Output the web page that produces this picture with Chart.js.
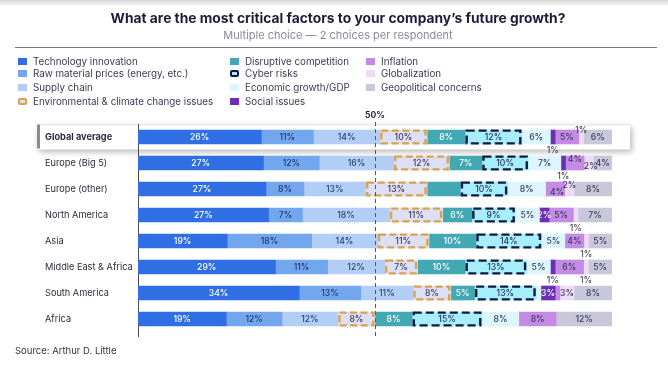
<!DOCTYPE html>
<html>
<head>
<meta charset="utf-8">
<script src="https://cdn.jsdelivr.net/npm/chart.js@4.4.1/dist/chart.umd.min.js"></script>
<style>
  body { margin: 0; background: #fff; font-family: Inter, "Open Sans", sans-serif; }
  #wrap { position: relative; width: 668px; height: 373px; overflow: hidden; }
  #chart { position: absolute; left: 0; top: 0; }
  .topshade { position: absolute; left: 0; top: 0; width: 668px; height: 7px;
    background: linear-gradient(#d6d6d6, rgba(255,255,255,0)); }
  .title { position: absolute; left: 4px; width: 668px; top: 10px; text-align: center;
    font-size: 13.8px; font-weight: 700; color: #1d1d3b; }
  .subtitle { position: absolute; left: 4px; width: 668px; top: 28px; text-align: center;
    font-size: 11px; color: #8a8a9c; }
  .rule { position: absolute; left: 15px; top: 47px; width: 642px; height: 1px; background: #7a7a86; }
  .lg { position: absolute; font-size: 9.8px; color: #3a3a55; white-space: nowrap; line-height: 11px; }
  .lg i { position: absolute; left: -15px; top: 2px; width: 9px; height: 7px; box-sizing: border-box; }
  .source { position: absolute; left: 15px; top: 345px; font-size: 9.5px; color: #333342; }
</style>
</head>
<body>
<div id="wrap">
  <canvas id="chart" width="668" height="373"></canvas>
  <div class="topshade"></div>
  <div class="title">What are the most critical factors to your company’s future growth?</div>
  <div class="subtitle">Multiple choice — 2 choices per respondent</div>
  <div class="rule"></div>
  <div id="legend"></div>
  <div class="source">Source: Arthur D. Little</div>
</div>
<script>
// カテゴリとシリーズ
const categories = ['Global average', 'Europe (Big 5)', 'Europe (other)', 'North America',
  'Asia', 'Middle East & Africa', 'South America', 'Africa'];

const seriesNames = ['Technology innovation', 'Raw material prices (energy, etc.)', 'Supply chain',
  'Environmental & climate change issues', 'Disruptive competition', 'Cyber risks',
  'Economic growth/GDP', 'Social issues', 'Inflation', 'Globalization', 'Geopolitical concerns'];

const techInnovation = [26, 27, 27, 27, 19, 29, 34, 19];
const rawMaterial    = [11, 12, 8, 7, 18, 11, 13, 12];
const supplyChain    = [14, 16, 13, 18, 14, 12, 11, 12];
const environmental  = [10, 12, 13, 11, 11, 7, 8, 8];
const disruptive     = [8, 7, 7, 6, 10, 10, 5, 8];
const cyberRisks     = [12, 10, 10, 9, 14, 13, 13, 15];
const economicGrowth = [6, 7, 8, 5, 5, 5, 1, 8];
const socialIssues   = [1, 1, 0, 2, 0, 1, 3, 0];
const inflation      = [5, 4, 4, 5, 4, 6, 1, 8];
const globalization  = [1, 2, 2, 1, 1, 1, 3, 0];
const geopolitical   = [6, 4, 8, 7, 5, 5, 8, 12];

const seriesValues = [techInnovation, rawMaterial, supplyChain, environmental, disruptive,
  cyberRisks, economicGrowth, socialIssues, inflation, globalization, geopolitical];

// 色
const fillColors = ['#2f6fe3', '#72a6ee', '#b2cef6', '#dde0f5', '#42a9b4', '#a6eef9',
  '#dcf6fb', '#6b2fb3', '#c48be5', '#eedcf7', '#c8c8da'];
const textColors = ['#ffffff', '#24386f', '#2d3f72', '#3b3b5c', '#ffffff', '#2a3560',
  '#3b3b5c', '#ffffff', '#3b3b5c', '#3b3b5c', '#3b3b5c'];
const dashBorders = { 3: { color: '#d9a24c', dash: [7, 3.5] }, 5: { color: '#101a45', dash: [8, 4] } };

// 小さいラベルの位置 (行|系列)
const labelPlacement = {
  '0|7': 'below', '0|9': 'above', '1|7': 'below', '1|8': 'up', '1|9': 'down',
  '2|8': 'down', '2|9': 'up', '3|9': 'below', '4|9': 'below', '5|7': 'below', '5|9': 'below'
};
const hiddenLabels = new Set(['2|4', '6|6', '6|8']);

// 凡例
const legendPos = [[33, 56], [33, 68], [33, 82], [33, 96], [245, 56], [245, 68], [245, 82], [245, 96], [381, 56], [381, 68], [381, 82]];
const legendEl = document.getElementById('legend');
seriesNames.forEach((name, i) => {
  const d = document.createElement('div');
  d.className = 'lg';
  d.style.left = legendPos[i][0] + 'px';
  d.style.top = legendPos[i][1] + 'px';
  const sw = document.createElement('i');
  sw.style.background = fillColors[i];
  if (dashBorders[i]) {
    sw.style.border = '2px solid ' + dashBorders[i].color;
    sw.style.borderRadius = '2px';
  }
  d.appendChild(sw);
  d.appendChild(document.createTextNode(name));
  legendEl.appendChild(d);
});

// 各行を100%に正規化
const rowTotals = categories.map((_, r) => seriesValues.reduce((s, arr) => s + arr[r], 0));

const datasets = seriesValues.map((arr, i) => ({
  label: seriesNames[i],
  data: arr.map((v, r) => v / rowTotals[r] * 100),
  raw: arr,
  backgroundColor: fillColors[i],
  borderWidth: 0,
  barThickness: 14
}));

// ハイライト枠 (Global average)
const highlightBox = {
  id: 'highlightBox',
  beforeDraw(chart) {
    const c = chart.ctx;
    const y = chart.scales.y.getPixelForValue(0);
    c.save();
    c.shadowColor = 'rgba(0,0,0,0.28)';
    c.shadowBlur = 6;
    c.shadowOffsetX = 2;
    c.shadowOffsetY = 2;
    c.fillStyle = '#ffffff';
    c.fillRect(37, y - 12.5, 593, 25);
    c.restore();
    c.fillStyle = '#8c8c8c';
    c.fillRect(37, y - 12.5, 3, 24);
    c.fillStyle = '#e2e2e2';
    c.fillRect(40, y - 12.5, 590, 1);
  }
};

// 破線枠・50%線・値ラベル
const overlay = {
  id: 'overlay',
  afterDatasetsDraw(chart) {
    const c = chart.ctx;
    const area = chart.chartArea;
    // 破線の枠
    Object.keys(dashBorders).forEach(k => {
      const meta = chart.getDatasetMeta(+k);
      const st = dashBorders[k];
      meta.data.forEach(el => {
        const w = el.x - el.base;
        if (w <= 0) return;
        c.save();
        c.strokeStyle = st.color;
        c.lineWidth = 2.4;
        c.setLineDash(st.dash);
        c.strokeRect(el.base + 1.6, el.y - el.height / 2 + 0.6, w - 3.2, el.height - 1.2);
        c.restore();
      });
    });
    // 50% の線と軸線の延長
    const x50 = chart.scales.x.getPixelForValue(50);
    c.save();
    c.strokeStyle = '#55556a';
    c.lineWidth = 1;
    c.setLineDash([4, 3]);
    c.beginPath();
    c.moveTo(x50 + 0.5, area.top - 2);
    c.lineTo(x50 + 0.5, area.bottom + 5);
    c.stroke();
    c.setLineDash([]);
    c.strokeStyle = '#4a4a55';
    c.beginPath();
    c.moveTo(area.left + 0.5, area.bottom);
    c.lineTo(area.left + 0.5, area.bottom + 5);
    c.stroke();
    c.restore();
    // 値ラベル
    c.save();
    c.font = '500 8.6px Inter, sans-serif';
    c.textAlign = 'center';
    c.textBaseline = 'middle';
    chart.data.datasets.forEach((ds, i) => {
      const meta = chart.getDatasetMeta(i);
      meta.data.forEach((el, r) => {
        const v = ds.raw[r];
        const key = r + '|' + i;
        if (!v || hiddenLabels.has(key)) return;
        let cx = (el.x + el.base) / 2;
        let cy = el.y + 0.5;
        let col = textColors[i];
        const p = labelPlacement[key];
        if (p === 'below') { cy += 13; col = '#4a4a60'; }
        else if (p === 'above') { cy -= 7; col = '#4a4a60'; }
        else if (p === 'up') { cy -= 4; }
        else if (p === 'down') { cy += 3; cx += 2; }
        c.fillStyle = col;
        c.fillText(v + '%', cx, cy);
      });
    });
    c.restore();
  }
};

new Chart(document.getElementById('chart'), {
  type: 'bar',
  data: { labels: categories, datasets: datasets },
  options: {
    responsive: false,
    animation: false,
    indexAxis: 'y',
    layout: { padding: { left: 45, right: 56, top: 108, bottom: 41 } },
    plugins: { legend: { display: false }, tooltip: { enabled: false } },
    scales: {
      x: {
        stacked: true,
        position: 'top',
        min: 0,
        max: 100,
        afterBuildTicks: s => { s.ticks = [{ value: 50 }]; },
        afterFit: s => { s.height = 16; },
        grid: { display: false, drawTicks: false },
        border: { display: false },
        ticks: {
          callback: v => v + '%',
          color: '#2a2a40',
          font: { family: 'Inter', size: 8.5, weight: '700' },
          padding: 3,
          maxRotation: 0
        }
      },
      y: {
        stacked: true,
        afterFit: s => { s.width = 93; },
        grid: { display: false },
        border: { display: true, color: '#4a4a55', width: 1 },
        ticks: {
          crossAlign: 'far',
          padding: 0,
          color: '#2b2b3d',
          font: ctx => ({ family: 'Inter', size: 9.2, weight: ctx.index === 0 ? '700' : '400' })
        }
      }
    }
  },
  plugins: [highlightBox, overlay]
});
</script>
</body>
</html>
